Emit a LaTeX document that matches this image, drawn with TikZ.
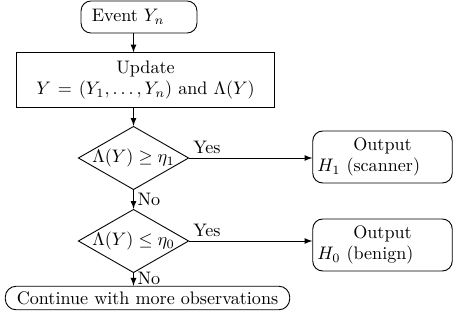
\documentclass[tikz,border=0pt]{standalone}
\usepackage{amsmath}
\usepackage{tikz}
\usetikzlibrary{shapes.geometric}
\newcommand\txtevent{Event $Y_n$}
\newcommand\txtupdate{Update\\ $Y=(Y_1,\dots,Y_n)$ and $\Lambda(Y)$}
\newcommand\txtdecone{$\Lambda(Y)\geq\eta_1$}
\newcommand\txtdectwo{$\Lambda(Y)\leq\eta_0$}
\newcommand\txtoutone{{\centering Output\par}$H_1$ (scanner)}
\newcommand\txtouttwo{{\centering Output\par}$H_0$ (benign)}
\newcommand\txtcont{Continue with more observations}
\tikzstyle{boxstyle} = [draw=black, text=black, line width=0.5pt]
\tikzstyle{rb} = [boxstyle, rectangle, rounded corners=5.5pt]
\tikzstyle{sb} = [boxstyle, rectangle]
\tikzstyle{db} = [boxstyle, diamond, inner sep=0pt, minimum width=61pt, minimum height=35pt]
\tikzset{>=latex, every picture/.style={line width=0.5pt}}

\begin{document}
\begin{tikzpicture}[x=0.552pt, y=-0.552pt]
\useasboundingbox (0,0) rectangle (453,330);
\node[rb, text width=52pt, align=left, inner xsep=6pt, inner ysep=2pt, minimum height=17.7pt] (ev) at (139, 17) {\txtevent};
\node[sb, text width=136pt, align=center, inner sep=3pt, minimum height=30pt] (up) at (145.5, 80) {\txtupdate};
\node[db] (d1) at (133.5, 158) {\makebox[0pt]{\txtdecone}};
\node[db] (d2) at (133.5, 241) {\makebox[0pt]{\txtdectwo}};
\node[rb, text width=72pt, inner xsep=2.5pt, minimum height=28.7pt] (o1) at (382.5, 157) {\txtoutone};
\node[rb, text width=72pt, inner xsep=2.5pt, minimum height=28.7pt] (o2) at (382.5, 245) {\txtouttwo};
\node[rb, rounded corners=6pt, minimum width=157pt, minimum height=13pt, inner sep=1pt] (cont) at (147.5, 298) {\txtcont};
\draw [->] (d1 |- ev.south) -- (d1 |- up.north);
\draw [->] (d1 |- up.south) -- (d1.north);
\draw [->] (d1.south) -- node[right, inner sep=2pt] {No} (d2.north);
\draw [->] (d2.south) -- node[pos=0.4, right, inner sep=2pt] {No} (d2 |- cont.north);
\draw [->] (d1.east) -- node[pos=0, above right, inner sep=2pt] {Yes} (d1.east -| o1.west);
\draw [->] (d2.east) -- node[pos=0, above right, inner sep=2pt] {Yes} (d2.east -| o2.west);
\end{tikzpicture}
\end{document}
